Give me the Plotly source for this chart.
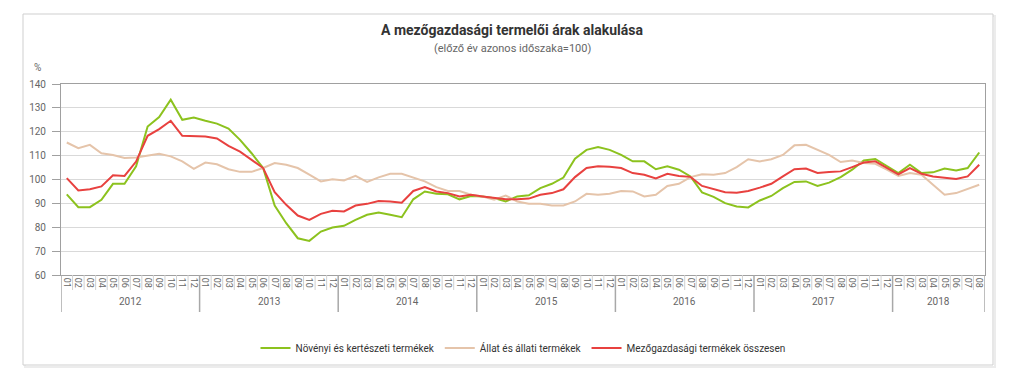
import plotly.graph_objects as go

# ---------------- data ----------------
years = ["2012", "2013", "2014", "2015", "2016", "2017", "2018"]
month_labels = ["01", "02", "03", "04", "05", "06", "07", "08", "09", "10", "11", "12"]
n_months_last_year = 8

novenyi = [
    93.8, 88.4, 88.4, 91.5, 98.2, 98.2, 105.5, 122.2, 126.2, 133.4, 125.0, 126.0,
    124.6, 123.4, 121.3, 116.6, 111.0, 104.8, 89.1, 81.7, 75.4, 74.3, 78.2, 79.9,
    80.6, 83.1, 85.2, 86.2, 85.2, 84.2, 91.7, 95.0, 94.0, 93.8, 91.7, 93.1,
    92.9, 92.2, 90.8, 92.9, 93.4, 96.4, 98.2, 100.8, 108.7, 112.4, 113.6, 112.4,
    110.3, 107.6, 107.6, 104.3, 105.5, 104.1, 101.3, 94.6, 92.7, 90.1, 88.7, 88.3,
    91.2, 93.1, 96.4, 99.0, 99.2, 97.3, 98.7, 101.0, 104.1, 108.0, 108.6, 105.7,
    102.7, 106.2, 102.7, 103.0, 104.6, 103.8, 104.8, 111.3,
]
allati = [
    115.5, 113.1, 114.5, 111.0, 110.3, 109.0, 109.2, 110.0, 110.8, 109.7, 107.6, 104.5,
    107.1, 106.4, 104.3, 103.2, 103.2, 104.8, 106.9, 106.2, 104.8, 102.0, 99.2, 100.1,
    99.6, 101.5, 99.0, 100.9, 102.4, 102.4, 100.8, 99.2, 96.8, 95.2, 95.2, 93.6,
    92.9, 91.5, 93.3, 90.8, 89.8, 89.8, 89.1, 89.1, 90.8, 94.0, 93.6, 94.0,
    95.2, 95.0, 92.9, 93.6, 97.3, 98.2, 101.0, 102.2, 102.0, 102.7, 105.2, 108.5,
    107.6, 108.5, 110.3, 114.3, 114.5, 112.4, 110.3, 107.3, 108.0, 106.9, 106.6, 104.1,
    101.5, 102.7, 102.0, 97.8, 93.6, 94.3, 95.9, 97.8,
]
osszesen = [
    100.6, 95.4, 95.9, 97.1, 101.8, 101.5, 107.5, 118.3, 121.1, 124.6, 118.3, 118.0,
    118.0, 117.2, 114.1, 111.7, 108.3, 104.8, 94.7, 89.4, 84.9, 83.1, 85.6, 86.9,
    86.6, 89.1, 89.8, 91.0, 90.8, 90.3, 95.2, 96.8, 95.0, 94.3, 92.9, 93.6,
    92.9, 92.2, 91.7, 91.7, 92.0, 93.6, 94.3, 95.9, 101.0, 104.8, 105.5, 105.3,
    104.8, 102.7, 102.0, 100.4, 102.4, 101.5, 101.1, 97.3, 95.9, 94.7, 94.5, 95.2,
    96.6, 98.2, 101.3, 104.3, 104.6, 102.7, 103.1, 103.4, 105.2, 107.1, 107.6, 105.0,
    102.2, 104.8, 102.4, 101.3, 100.6, 100.2, 101.3, 106.2,
]

series_names = [
    "Növényi és kertészeti termékek",
    "Állat és állati termékek",
    "Mezőgazdasági termékek összesen",
]
series_colors = ["#8cc21e", "#e5c4aa", "#e8413f"]

title_text = "A mezőgazdasági termelői árak alakulása"
subtitle_text = "(előző év azonos időszaka=100)"
y_unit = "%"

# ---------------- build ----------------
ticktext = []
year_of = []
for yi, yr in enumerate(years):
    nm = 12 if yi < len(years) - 1 else n_months_last_year
    ticktext += month_labels[:nm]
    year_of += [yi] * nm
n = len(ticktext)
x = list(range(n))

fig = go.Figure()
for name, vals, col in zip(series_names, [novenyi, allati, osszesen], series_colors):
    fig.add_trace(go.Scatter(x=x, y=vals, mode="lines", name=name,
                             line=dict(color=col, width=2), hoverinfo="x+y"))

W, H = 1024, 385
L, R, T, B = 61, 985, 84, 275
ph = B - T
pw = R - L

def py(pix):
    return (B - pix) / ph

def px(pix):
    return (pix - L) / pw

shapes = []
# outer container box (with faint shadow)
shapes.append(dict(type="rect", xref="paper", yref="paper",
                   x0=px(25), x1=px(995), y0=py(16), y1=py(367),
                   line=dict(color="#ececec", width=2), fillcolor="rgba(0,0,0,0)",
                   layer="below"))
shapes.append(dict(type="rect", xref="paper", yref="paper",
                   x0=px(23), x1=px(993), y0=py(14), y1=py(365),
                   line=dict(color="#cfcfcf", width=1), fillcolor="white",
                   layer="below"))
# month separators and year separators
for i in range(n + 1):
    is_year = (i == 0) or (i == n) or (i < n and ticktext[i] == "01")
    shapes.append(dict(type="line", xref="x", yref="paper",
                       x0=i - 0.5, x1=i - 0.5, y0=0,
                       y1=py(312) if is_year else py(290),
                       line=dict(color="#a8a8a8" if is_year else "#d0d0d0",
                                 width=1.5 if is_year else 1)))

annotations = []
for yi, yr in enumerate(years):
    idx = [i for i in range(n) if year_of[i] == yi]
    annotations.append(dict(x=(idx[0] + idx[-1]) / 2, y=py(301), xref="x", yref="paper",
                            xanchor="center", yanchor="middle",
                            text=yr, showarrow=False,
                            font=dict(size=10, color="#666666", family="Roboto")))
annotations.append(dict(x=px(512), y=py(30), xref="paper", yref="paper",
                        xanchor="center", yanchor="middle",
                        text="<b>" + title_text + "</b>", showarrow=False,
                        font=dict(size=14, color="#333333", family="Roboto")))
annotations.append(dict(x=px(512), y=py(48), xref="paper", yref="paper",
                        xanchor="center", yanchor="middle",
                        text=subtitle_text, showarrow=False,
                        font=dict(size=11, color="#666666", family="Roboto")))
annotations.append(dict(x=px(37), y=py(68), xref="paper", yref="paper",
                        xanchor="center", yanchor="middle",
                        text=y_unit, showarrow=False,
                        font=dict(size=10, color="#666666", family="Roboto")))

fig.update_layout(
    width=W, height=H,
    margin=dict(l=L, r=W - R, t=T, b=H - B, pad=0),
    paper_bgcolor="white", plot_bgcolor="white",
    font=dict(family="Roboto", color="#333333"),
    showlegend=True,
    legend=dict(orientation="h", x=0.5, xanchor="center", y=py(348), yanchor="middle",
                font=dict(size=10, color="#333333"), itemwidth=30,
                bgcolor="rgba(0,0,0,0)", traceorder="normal"),
    shapes=shapes,
    annotations=annotations,
    xaxis=dict(range=[-0.5, n - 0.5], tickmode="array", tickvals=x, ticktext=ticktext,
               tickangle=90, tickfont=dict(size=9, color="#666666"),
               showgrid=False, zeroline=False, showline=True, mirror=True,
               linecolor="#a0a0a0", linewidth=1, ticks="", fixedrange=True),
    yaxis=dict(range=[60, 140], dtick=10, tickfont=dict(size=10, color="#666666"),
               showgrid=True, gridcolor="#d9d9d9", gridwidth=1,
               zeroline=False, showline=True, mirror=True, linecolor="#a0a0a0",
               linewidth=1, ticks="outside", ticklen=8, tickcolor="#a0a0a0",
               ticklabelstandoff=4, fixedrange=True),
)

fig.write_html("out.html",
               config={"displayModeBar": False},
               post_script="document.body.style.margin='0';document.body.style.padding='0';")
